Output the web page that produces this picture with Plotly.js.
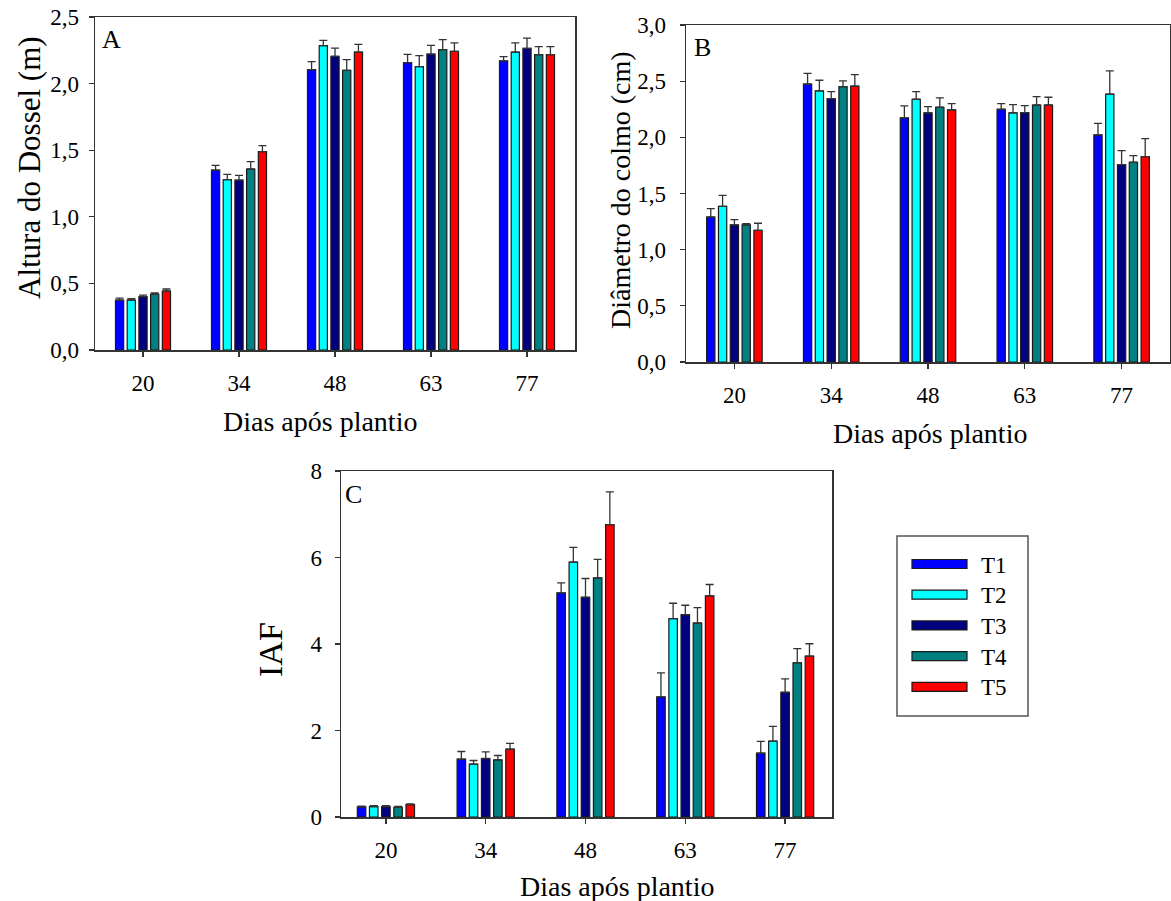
<!DOCTYPE html>
<html>
<head>
<meta charset="utf-8">
<script src="https://cdn.plot.ly/plotly-3.0.1.min.js"></script>
<style>
  html, body { margin: 0; padding: 0; background: #ffffff; }
  #chart { width: 1171px; height: 901px; }
</style>
</head>
<body>
<div id="chart"></div>
<script>
// ---------- DATA ----------
const days = ['20', '34', '48', '63', '77'];
const seriesNames = ['T1', 'T2', 'T3', 'T4', 'T5'];
const seriesColors = ['#0000ff', '#00ffff', '#000080', '#008080', '#ff0000'];

// Panel A: Altura do Dossel (m)
const alturaT1 = [0.375, 1.351, 2.105, 2.157, 2.170];
const alturaT2 = [0.375, 1.279, 2.285, 2.127, 2.237];
const alturaT3 = [0.400, 1.276, 2.205, 2.222, 2.265];
const alturaT4 = [0.418, 1.359, 2.100, 2.255, 2.217];
const alturaT5 = [0.443, 1.489, 2.237, 2.242, 2.217];
const alturaErrT1 = [0.015, 0.035, 0.060, 0.063, 0.032];
const alturaErrT2 = [0.010, 0.040, 0.040, 0.083, 0.068];
const alturaErrT3 = [0.012, 0.035, 0.062, 0.065, 0.077];
const alturaErrT4 = [0.010, 0.055, 0.080, 0.075, 0.060];
const alturaErrT5 = [0.015, 0.045, 0.058, 0.063, 0.060];

// Panel B: Diâmetro do colmo (cm)
const diamT1 = [1.291, 2.475, 2.173, 2.250, 2.021];
const diamT2 = [1.386, 2.413, 2.339, 2.217, 2.384];
const diamT3 = [1.220, 2.345, 2.217, 2.220, 1.757];
const diamT4 = [1.220, 2.452, 2.268, 2.288, 1.778];
const diamT5 = [1.172, 2.455, 2.244, 2.288, 1.828];
const diamErrT1 = [0.074, 0.095, 0.107, 0.050, 0.104];
const diamErrT2 = [0.098, 0.095, 0.068, 0.074, 0.207];
const diamErrT3 = [0.047, 0.062, 0.056, 0.062, 0.125];
const diamErrT4 = [0.012, 0.050, 0.083, 0.074, 0.059];
const diamErrT5 = [0.063, 0.103, 0.056, 0.069, 0.160];

// Panel C: IAF
const iafT1 = [0.232, 1.338, 5.181, 2.777, 1.478];
const iafT2 = [0.240, 1.222, 5.893, 4.587, 1.756];
const iafT3 = [0.240, 1.353, 5.081, 4.680, 2.884];
const iafT4 = [0.225, 1.322, 5.529, 4.485, 3.566];
const iafT5 = [0.285, 1.570, 6.759, 5.111, 3.719];
const iafErrT1 = [0.020, 0.177, 0.232, 0.557, 0.270];
const iafErrT2 = [0.020, 0.084, 0.340, 0.355, 0.339];
const iafErrT3 = [0.020, 0.155, 0.433, 0.216, 0.310];
const iafErrT4 = [0.020, 0.100, 0.426, 0.357, 0.325];
const iafErrT5 = [0.020, 0.131, 0.758, 0.265, 0.287];

const panelLetters = ['A', 'B', 'C'];
const yTitles = ['Altura do Dossel (m)', 'Diâmetro do colmo (cm)', 'IAF'];
const xTitle = 'Dias após plantio';

// ---------- BUILD ----------
const W = 1171, H = 901;
const px = v => v / W;
const py = v => 1 - v / H;
const FONT = 'Liberation Serif';

const panels = [
  { ax: '', vals: [alturaT1, alturaT2, alturaT3, alturaT4, alturaT5],
    errs: [alturaErrT1, alturaErrT2, alturaErrT3, alturaErrT4, alturaErrT5] },
  { ax: '2', vals: [diamT1, diamT2, diamT3, diamT4, diamT5],
    errs: [diamErrT1, diamErrT2, diamErrT3, diamErrT4, diamErrT5] },
  { ax: '3', vals: [iafT1, iafT2, iafT3, iafT4, iafT5],
    errs: [iafErrT1, iafErrT2, iafErrT3, iafErrT4, iafErrT5] }
];

const traces = [];
panels.forEach(p => {
  p.vals.forEach((vals, i) => {
    traces.push({
      type: 'bar',
      name: seriesNames[i],
      x: days,
      y: vals,
      xaxis: 'x' + p.ax,
      yaxis: 'y' + p.ax,
      showlegend: false,
      marker: { color: seriesColors[i], line: { color: '#1a1a1a', width: 1.2 } },
      error_y: {
        type: 'data', symmetric: false,
        array: p.errs[i], arrayminus: vals.map(() => 0),
        color: '#333333', thickness: 1.3, width: 4
      }
    });
  });
});

const tickFont = { family: FONT, size: 23, color: '#000' };
function xAxis(d0, d1, anchor, range) {
  return {
    domain: [px(d0), px(d1)], anchor: anchor, type: 'category',
    range: range, showgrid: false, zeroline: false,
    showline: true, mirror: true, linecolor: '#333', linewidth: 1.5,
    ticks: 'outside', ticklen: 5, tickcolor: '#333', tickwidth: 1.2,
    tickfont: tickFont, ticklabelstandoff: 7, fixedrange: true
  };
}
function yAxis(top, bottom, anchor, range, dtick, fmt, standoff) {
  return {
    domain: [py(bottom), py(top)], anchor: anchor,
    range: range, dtick: dtick, tick0: 0, tickformat: fmt,
    showgrid: false, zeroline: false,
    showline: true, mirror: true, linecolor: '#333', linewidth: 1.5,
    ticks: 'outside', ticklen: 5, tickcolor: '#333', tickwidth: 1.2,
    tickfont: tickFont, ticklabelstandoff: standoff, fixedrange: true
  };
}

const annotations = [];
const shapes = [];
function txt(text, x, y, size, angle, xanchor) {
  annotations.push({
    text: text, xref: 'paper', yref: 'paper', x: px(x), y: py(y),
    xanchor: xanchor || 'center', yanchor: 'middle', showarrow: false,
    textangle: angle || 0, font: { family: FONT, size: size, color: '#000' }
  });
}
// panel letters
txt(panelLetters[0], 100, 40, 26, 0, 'left');
txt(panelLetters[1], 692, 47, 26, 0, 'left');
txt(panelLetters[2], 343, 494, 26, 0, 'left');
// axis titles
txt(yTitles[0], 30, 168, 31, -90);
txt(yTitles[1], 620, 190, 28, -90);
txt(yTitles[2], 270, 650, 34, -90);
txt(xTitle, 320, 421, 28);
txt(xTitle, 930, 433, 28);
txt(xTitle, 617, 886, 28);

// legend (built from series arrays)
shapes.push({ type: 'rect', xref: 'paper', yref: 'paper',
  x0: px(897), x1: px(1028), y0: py(716), y1: py(536),
  line: { color: '#555', width: 1.5 }, fillcolor: 'rgba(0,0,0,0)' });
seriesNames.forEach((n, i) => {
  const cy = 564 + i * 30.7;
  shapes.push({ type: 'rect', xref: 'paper', yref: 'paper',
    x0: px(912), x1: px(967), y0: py(cy + 4.5), y1: py(cy - 4.5),
    line: { color: '#1a1a1a', width: 1.2 }, fillcolor: seriesColors[i] });
  txt(n, 979, cy + 1, 23, 0, 'left');
});

const layout = {
  width: W, height: H,
  margin: { l: 0, r: 0, t: 0, b: 0 },
  paper_bgcolor: '#fff', plot_bgcolor: '#fff',
  separators: ', ',
  barmode: 'group', bargap: 0.39, bargroupgap: 0.3,
  showlegend: false,
  font: { family: FONT, color: '#000' },
  xaxis:  xAxis(95, 575, 'y', [-0.5, 4.5]),
  yaxis:  yAxis(17, 350, 'x', [0, 2.5], 0.5, '.1f', 5),
  xaxis2: xAxis(686, 1170, 'y2', [-0.5, 4.5]),
  yaxis2: yAxis(25, 362, 'x2', [0, 3.0], 0.5, '.1f', 9),
  xaxis3: xAxis(341, 832, 'y3', [-0.45, 4.47]),
  yaxis3: yAxis(471, 817, 'x3', [0, 8], 2, 'd', 8),
  annotations: annotations,
  shapes: shapes
};

Plotly.newPlot('chart', traces, layout, { displayModeBar: false, staticPlot: true });
</script>
</body>
</html>
